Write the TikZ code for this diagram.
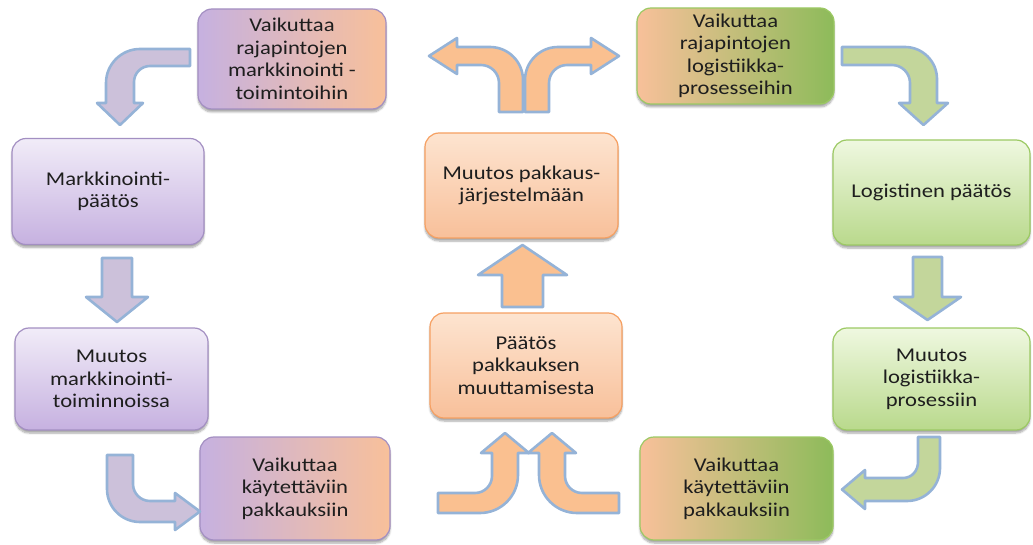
\documentclass[tikz,border=0pt]{standalone}
\usepackage{fontspec}
\setmainfont{Carlito}[FakeStretch=1.16]
\usetikzlibrary{shadows.blur}

% fills and outlines
\definecolor{purA}{HTML}{C6B1E0}
\definecolor{purB}{HTML}{F1ECF8}
\definecolor{purLine}{HTML}{A38FC2}
\definecolor{oraA}{HTML}{F8C09A}
\definecolor{oraB}{HTML}{FDE4D0}
\definecolor{oraLine}{HTML}{F6A062}
\definecolor{grnA}{HTML}{B9D98C}
\definecolor{grnB}{HTML}{EFF8E0}
\definecolor{grnLine}{HTML}{9CC964}
\definecolor{grnDark}{HTML}{8DBB5A}
\definecolor{arrLine}{HTML}{95B3D7}
\definecolor{arrPur}{HTML}{CCC1DA}
\definecolor{arrOra}{HTML}{FAC090}
\definecolor{arrGrn}{HTML}{C3D69B}
\definecolor{txt}{HTML}{1E1E1E}

\tikzset{
  box/.style={rounded corners=14pt, line width=1.2pt, align=center,
    text=txt, font=\fontsize{19.5}{22.5}\selectfont,
    blur shadow={shadow xshift=0pt, shadow yshift=-3pt, shadow opacity=35, shadow blur steps=6}},
  purbox/.style={box, draw=purLine, top color=purB, bottom color=purA},
  orabox/.style={box, draw=oraLine, top color=oraB, bottom color=oraA},
  grnbox/.style={box, draw=grnLine, top color=grnB, bottom color=grnA},
  pobox/.style={box, draw=purLine, left color=purA, middle color=purB!90!white, right color=oraA},
  ogbox/.style={box, draw=grnLine, left color=oraA, middle color=grnB!70!grnA, right color=grnDark},
  barrow/.style={draw=arrLine, line width=2.6pt, line join=round},
}

\begin{document}
\begin{tikzpicture}[x=1pt, y=-1pt]
\useasboundingbox (0,0) rectangle (1033,545);

% ---------- boxes ----------
\node[pobox, minimum width=188pt, minimum height=100pt] (tl) at (292,59)
  {Vaikuttaa\\rajapintojen\\markkinointi -\\toimintoihin};
\node[ogbox, minimum width=197pt, minimum height=96pt] (tr) at (735.5,56)
  {Vaikuttaa\\rajapintojen\\logistiikka-\\prosesseihin};
\node[purbox, minimum width=192pt, minimum height=106pt] (mp) at (108,191.5)
  {Markkinointi-\\päätös};
\node[orabox, minimum width=193pt, minimum height=105pt] (pj) at (521.5,185.5)
  {Muutos pakkaus-\\järjestelmään};
\node[grnbox, minimum width=197pt, minimum height=105pt] (lp) at (931.5,192.5)
  {Logistinen päätös};
\node[purbox, minimum width=193pt, minimum height=102pt] (mm) at (111.5,379)
  {Muutos\\markkinointi-\\toiminnoissa};
\node[orabox, minimum width=192pt, minimum height=105pt] (pp) at (526,365.5)
  {Päätös\\pakkauksen\\muuttamisesta};
\node[grnbox, minimum width=197pt, minimum height=102pt] (ml) at (931.5,379)
  {Muutos\\logistiikka-\\prosessiin};
\node[pobox, minimum width=190pt, minimum height=103pt] (bl) at (295,488.5)
  {Vaikuttaa\\käytettäviin\\pakkauksiin};
\node[ogbox, minimum width=193pt, minimum height=103pt] (br) at (736.5,488.5)
  {Vaikuttaa\\käytettäviin\\pakkauksiin};

% ---------- block arrows ----------
% top left: left, then down
\draw[barrow, fill=arrPur]
  (190,49) -- (140,49) .. controls (121.3,49) and (106,64.3) .. (106,83)
  -- (106,103) -- (97,103) -- (120,125) -- (143,103) -- (134,103)
  -- (134,82) .. controls (134,73.2) and (141.2,66) .. (150,66) -- (190,66) -- cycle;

% top centre: split left and right
\draw[barrow, fill=arrOra]
  (429,56) -- (457,38) -- (457,47) -- (490,47) .. controls (508.2,47) and (523,61.8) .. (523,80)
  -- (523,112) -- (499,112) -- (499,83) .. controls (499,73.1) and (490.9,65) .. (481,65)
  -- (457,65) -- (457,74) -- cycle;
\draw[barrow, fill=arrOra]
  (619,56) -- (591,38) -- (591,47) -- (558,47) .. controls (539.8,47) and (525,61.8) .. (525,80)
  -- (525,112) -- (549,112) -- (549,83) .. controls (549,73.1) and (557.1,65) .. (567,65)
  -- (591,65) -- (591,74) -- cycle;

% top right: right, then down
\draw[barrow, fill=arrGrn]
  (842,47) -- (905,47) .. controls (922.6,47) and (937,61.4) .. (937,79)
  -- (937,103) -- (948,103) -- (923.5,125) -- (899,103) -- (910,103)
  -- (910,83) .. controls (910,73.1) and (901.9,65) .. (892,65) -- (842,65) -- cycle;

% straight arrows
\draw[barrow, fill=arrPur]
  (102,258) -- (132,258) -- (132,297) -- (148,297) -- (117,322) -- (86,297) -- (102,297) -- cycle;
\draw[barrow, fill=arrOra]
  (502,307) -- (543,307) -- (543,275) -- (567,275) -- (522.5,245) -- (478,275) -- (502,275) -- cycle;
\draw[barrow, fill=arrGrn]
  (913,257) -- (942,257) -- (942,297) -- (961,297) -- (927.5,320) -- (894,297) -- (913,297) -- cycle;

% bottom left: down, then right
\draw[barrow, fill=arrPur]
  (107,455) -- (133,455) -- (133,484) .. controls (133,493.4) and (140.6,501) .. (150,501)
  -- (175,501) -- (175,493) -- (200,511.5) -- (175,530) -- (175,522)
  -- (140,522) .. controls (121.8,522) and (107,507.2) .. (107,489) -- cycle;

% bottom centre: two arrows turning up
\draw[barrow, fill=arrOra]
  (438,493) -- (475,493) .. controls (484.4,493) and (492,485.4) .. (492,476)
  -- (492,453) -- (481,453) -- (505,433) -- (529,453) -- (518,453)
  -- (518,475) .. controls (518,496) and (501,513) .. (480,513) -- (438,513) -- cycle;
\draw[barrow, fill=arrOra]
  (619,493) -- (582,493) .. controls (572.6,493) and (565,485.4) .. (565,476)
  -- (565,453) -- (576,453) -- (552,433) -- (528,453) -- (539,453)
  -- (539,475) .. controls (539,496) and (556,513) .. (577,513) -- (619,513) -- cycle;

% bottom right: down, then left
\draw[barrow, fill=arrGrn]
  (940,437) -- (918,437) -- (918,462) .. controls (918,470.8) and (911.8,478) .. (903,478)
  -- (865,478) -- (865,470) -- (842,489.5) -- (865,509) -- (865,501)
  -- (907,501) .. controls (925.2,501) and (940,486.2) .. (940,468) -- cycle;
\end{tikzpicture}
\end{document}
